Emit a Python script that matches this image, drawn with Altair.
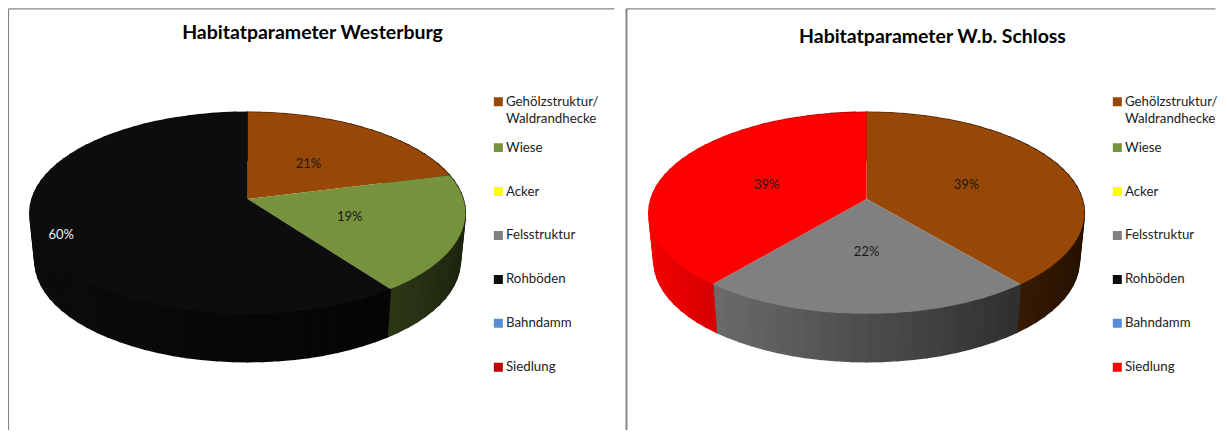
import math
import altair as alt
import pandas as pd

categories = ["Gehölzstruktur/ Waldrandhecke", "Wiese", "Acker", "Felsstruktur",
              "Rohböden", "Bahndamm", "Siedlung"]
values_left = [21, 19, 0, 0, 60, 0, 0]
values_right = [39, 0, 0, 22, 0, 0, 39]
colors_left = ["#974706", "#76923C", "#FFFF00", "#808080", "#0D0D0D", "#558ED5", "#C00000"]
colors_right = ["#974706", "#76923C", "#FFFF00", "#808080", "#0D0D0D", "#558ED5", "#FF0000"]
label_colors_left = ["#1a1a1a", "#1a1a1a", "", "", "#f2f2f2", "", ""]
label_colors_right = ["#1a1a1a", "", "", "#1a1a1a", "", "", "#1a1a1a"]
label_radius_left = [0.51, 0.48, 0, 0, 0.87, 0, 0]
label_radius_right = [0.515, 0, 0, 0.45, 0, 0, 0.515]
label_drop_left = [1, 1, 0, 0, 8, 0, 0]
label_drop_right = [2, 0, 0, 1, 0, 0, 2]

K, A, B, APEX_Y, FLOOR_Y, FLOOR_A = 0.1387, 216.0, 99.0, 199.0, 247.0, 211.0
FONT = "Lato"


def rim(cx, turn, a=A, y0=APEX_Y):
    th = turn * 2 * math.pi
    u, v = math.sin(th), math.cos(th)
    w = 1 + K * v
    return cx + a * u / w, y0 - B * v / w


def shade(hex_color, turn):
    f = 0.605 - 0.367 * math.sin(turn * 2 * math.pi)
    rgb = [int(hex_color[i:i + 2], 16) for i in (1, 3, 5)]
    return "#%02x%02x%02x" % tuple(min(255, int(c * f)) for c in rgb)


def panel(title, values, colors, label_colors, label_radius, label_drop, cx, title_x, title_y,
          x0, x1, legend_x, axis_width):
    width = x1 - x0
    faces, walls, labels = [], [], []
    start = 0.0
    for cat, val, col, lc, lr, ld in zip(categories, values, colors, label_colors, label_radius, label_drop):
        if val == 0:
            continue
        end = start + val / 100
        steps = max(2, int(val))
        pts = [(cx, APEX_Y)] + [rim(cx, start + (end - start) * i / (steps * 3)) for i in range(steps * 3 + 1)]
        for i, (x, y) in enumerate(pts):
            faces.append({"cat": cat, "x": x, "y": y, "o": i})
        for s in range(steps):
            t0 = start + (end - start) * s / steps
            t1 = start + (end - start) * (s + 1) / steps
            quad = [rim(cx, t0), rim(cx, t1), rim(cx, t1, FLOOR_A, FLOOR_Y), rim(cx, t0, FLOOR_A, FLOOR_Y)]
            for i, (x, y) in enumerate(quad):
                walls.append({"id": f"{cat}{s}", "x": x, "y": y, "o": i, "c": shade(col, (t0 + t1) / 2)})
        mx, my = rim(cx, (start + end) / 2)
        labels.append({"x": cx + (mx - cx) * lr, "y": APEX_Y + (my - APEX_Y) * lr + ld,
                       "t": f"{val}%", "c": lc})
        start = end

    xs = alt.Scale(domain=[x0, x1], nice=False, zero=False)
    ys = alt.Scale(domain=[430, 8], nice=False, zero=False)
    ax_x = alt.Axis(orient="top", title=None, labels=False, ticks=False, grid=False,
                    domainColor="#868686", domainWidth=1.3)
    ax_y = alt.Axis(orient="left", title=None, labels=False, ticks=False, grid=False,
                    domainColor="#868686", domainWidth=axis_width)
    X = alt.X("x:Q", scale=xs, axis=ax_x)
    Y = alt.Y("y:Q", scale=ys, axis=ax_y)

    wall = alt.Chart(pd.DataFrame(walls)).mark_line(interpolate="linear-closed", strokeWidth=1.5).encode(
        x=X, y=Y, order="o:Q", detail="id:N",
        fill=alt.Fill("c:N", scale=None), stroke=alt.Stroke("c:N", scale=None))
    face = alt.Chart(pd.DataFrame(faces)).mark_line(interpolate="linear-closed", strokeWidth=0).encode(
        x=X, y=Y, order="o:Q", detail="cat:N",
        fill=alt.Fill("cat:N", scale=alt.Scale(domain=categories, range=colors),
                      legend=alt.Legend(orient="none", legendX=legend_x, legendY=71.5, title=None, padding=0,
                                        symbolType="square", symbolSize=81, symbolStrokeWidth=0,
                                        labelFont=FONT, labelFontSize=13.3, labelColor="#222222",
                                        labelLimit=200, labelOffset=1, clipHeight=44, rowPadding=0,
                                        labelExpr="split(datum.label, ' ')")))
    text = alt.Chart(pd.DataFrame(labels)).mark_text(font=FONT, fontSize=13).encode(
        x=X, y=Y, text="t:N", color=alt.Color("c:N", scale=None))
    head = alt.Chart(pd.DataFrame([{"x": title_x, "y": title_y, "t": title}])).mark_text(
        font=FONT, fontSize=19.5, fontWeight="bold", color="#000000").encode(x=X, y=Y, text="t:N")
    return alt.layer(wall, face, text, head).resolve_scale(fill="independent", color="independent").properties(
        width=width, height=422)


left = panel("Habitatparameter Westerburg", values_left, colors_left, label_colors_left,
             label_radius_left, label_drop_left, 248, 313, 33, 8, 615, 484.5, 1.2)
right = panel("Habitatparameter W.b. Schloss", values_right, colors_right, label_colors_right,
              label_radius_right, label_drop_right, 868, 934, 36.5, 627, 1217, 485.5, 2)

chart = (alt.hconcat(left, right, spacing=12)
         .resolve_scale(fill="independent", color="independent")
         .configure(style={"guide-label": {"lineHeight": 17}})
         .configure_view(stroke=None)
         .properties(padding=0, background="#ffffff"))
chart.save("out.html", embed_options={"renderer": "svg", "actions": False})
